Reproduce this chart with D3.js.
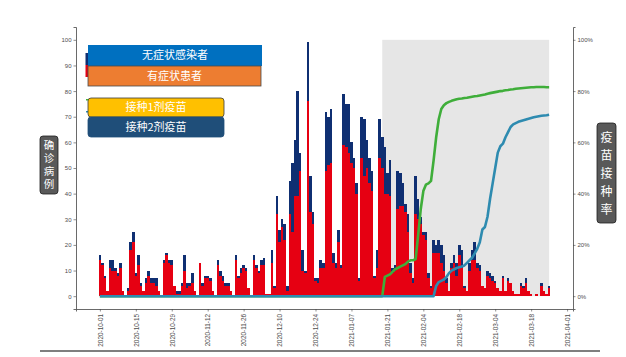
<!DOCTYPE html>
<html><head><meta charset="utf-8">
<script src="https://cdn.jsdelivr.net/npm/d3@7"></script>
<style>body{margin:0;background:#fff} svg{display:block}</style>
</head><body>
<svg id="c" width="626" height="357"></svg>
<script>
// ---------- data ----------
const startDate = "2020-10-01";
// symptomatic (red) daily cases
const symptomatic = [
14,12,7,2,11,10,10,8,11,2,
0,2,18,21,8,12,4,2,5,8,
5,5,4,2,0,13,16,13,12,4,
1,1,4,10,3,4,5,2,0,13,
4,7,7,6,2,0,12,8,6,4,
4,2,0,14,7,9,11,10,3,0,
14,11,9,12,12,1,1,13,3,32,
21,27,22,2,32,25,39,39,49,10,
9,76,33,28,6,5,11,11,49,51,
52,13,11,21,11,59,58,56,52,50,
40,6,54,47,50,44,41,7,11,54,
50,40,40,39,9,10,34,35,35,33,
25,9,5,32,30,28,24,22,7,3,
17,17,17,13,10,5,2,11,13,8,
16,11,3,2,10,14,14,11,10,4,
3,8,7,6,5,3,2,7,2,6,
5,2,1,1,4,3,5,2,1,0,
1,0,4,2,1,3];
// asymptomatic (navy) daily infections
const asymptomatic = [
2,1,1,0,3,4,1,1,2,0,
0,1,3,4,1,4,1,0,2,2,
2,2,3,0,0,1,1,1,2,0,
1,1,1,6,2,1,4,0,0,0,
1,1,1,1,0,0,2,2,2,1,
1,0,0,2,1,2,1,1,0,0,
2,1,1,2,3,0,0,5,1,7,
5,3,6,2,13,27,22,41,7,8,
1,23,14,5,1,2,3,2,23,19,
21,4,2,5,1,20,17,19,8,4,
4,1,16,22,11,10,8,1,7,15,
12,18,8,14,2,2,15,13,9,3,
7,4,2,15,8,3,1,3,2,1,
5,3,5,7,6,2,0,2,3,5,
4,7,1,0,3,4,7,2,2,0,
0,2,2,2,1,0,0,1,0,1,
0,0,0,0,1,1,2,0,0,0,
0,0,1,0,0,1];
// vaccination rate (%), 1 dose, daily from dose1Start
const dose1Start = "2021-01-19";
const dose1 = [
0,7.5,8,8.5,9.5,10.5,11,11.5,12,12.5,
13.5,14,14,14.5,24,34,41,43.5,44,45,
53,62,69,73,74.5,75.3,75.8,76.2,76.5,76.8,
77,77.1,77.3,77.4,77.6,77.8,78,78.1,78.3,78.5,
78.7,79,79.2,79.4,79.6,79.8,80,80.1,80.3,80.4,
80.6,80.7,80.9,81,81.1,81.2,81.3,81.4,81.5,81.5,
81.6,81.6,81.6,81.6,81.5,81.5];
// vaccination rate (%), 2 doses, daily from dose2Start
const dose2Start = "2021-02-08";
const dose2 = [
0,4,5.5,6,6.5,7.5,9,10,10.5,11,
11.3,11.6,12,13,14,15,16.7,18.5,21,26,
27,31,38,44,50,56,58.5,59.5,62,64,
66,67,67.5,68,68.3,68.6,68.9,69.2,69.5,69.8,
70,70.2,70.4,70.5,70.6,70.8];
const xTickLabels = ["2020-10-01","2020-10-15","2020-10-29","2020-11-12","2020-11-26","2020-12-10","2020-12-24","2021-01-07","2021-01-21","2021-02-04","2021-02-18","2021-03-04","2021-03-18","2021-04-01"];
const yTicks = [0,10,20,30,40,50,60,70,80,90,100];
const pctTicks = [0,0.2,0.4,0.6,0.8,1.0];
const shadeRange = ["2021-01-19","2021-03-25"];
const legendCases = ["无症状感染者","有症状患者"];
const legendVacc = ["接种1剂疫苗","接种2剂疫苗"];
const leftTitle = "确诊病例";
const rightTitle = "疫苗接种率";

// ---------- chart ----------
const DAY = 864e5;
const parse = d3.utcParse("%Y-%m-%d");
const t0 = parse(startDate);
const dates = symptomatic.map((_, i) => new Date(+t0 + i * DAY));
const table = dates.map((d, i) => ({date: d, symptomatic: symptomatic[i], asymptomatic: asymptomatic[i]}));
const lastDate = dates[dates.length - 1];

const svg = d3.select("#c");
const x = d3.scaleUtc()
  .domain([new Date(+t0 - 9.3 * DAY), new Date(+lastDate + 9.3 * DAY)])
  .range([76, 573]);
const y = d3.scaleLinear().domain([-5, 105]).range([309, 27]);
const yp = d3.scaleLinear().domain([-0.05, 1.05]).range([309, 27]);

const numFont = "'Liberation Sans', Arial, sans-serif";
const cjkFont = "'Noto Sans CJK SC', sans-serif";

// shaded vaccination period
svg.append("rect")
  .attr("x", x(parse(shadeRange[0])))
  .attr("width", x(parse(shadeRange[1])) - x(parse(shadeRange[0])))
  .attr("y", yp(1)).attr("height", yp(0) - yp(1))
  .attr("fill", "#e6e6e6");

// stacked bars
const stack = d3.stack().keys(["symptomatic", "asymptomatic"])(table);
const colors = {symptomatic: "#e60012", asymptomatic: "#0f2f72"};
svg.append("g").attr("shape-rendering", "crispEdges")
  .selectAll("g").data(stack).join("g")
  .attr("fill", s => colors[s.key])
  .selectAll("rect").data(s => s.filter(p => p[1] > p[0])).join("rect")
  .attr("x", p => x(new Date(+p.data.date - DAY / 2)))
  .attr("width", p => x(new Date(+p.data.date + DAY / 2)) - x(new Date(+p.data.date - DAY / 2)))
  .attr("y", p => y(p[1]))
  .attr("height", p => y(p[0]) - y(p[1]));

// vaccination lines
function series(startStr, vals) {
  const s = parse(startStr);
  const pts = [{date: t0, v: 0}];
  vals.forEach((v, i) => pts.push({date: new Date(+s + i * DAY), v: v / 100}));
  return pts;
}
const line = d3.line().x(p => x(p.date)).y(p => yp(p.v));
svg.append("path").datum(series(dose1Start, dose1))
  .attr("d", line).attr("fill", "none").attr("stroke", "#3fae3a")
  .attr("stroke-width", 2.6).attr("stroke-linejoin", "round");
svg.append("path").datum(series(dose2Start, dose2))
  .attr("d", line).attr("fill", "none").attr("stroke", "#2e8bb0")
  .attr("stroke-width", 2.6).attr("stroke-linejoin", "round");

// axes
const axisColor = "#444";
const gl = svg.append("g").attr("transform", "translate(76,0)")
  .call(d3.axisLeft(y).tickValues(yTicks).tickSize(2.5).tickPadding(2));
const gr = svg.append("g").attr("transform", "translate(573,0)")
  .call(d3.axisRight(yp).tickValues(pctTicks).tickSize(2.5).tickPadding(2).tickFormat(d3.format(".0%")));
const tickDates = xTickLabels.map(parse);
const gx = svg.append("g").attr("transform", "translate(0,309)")
  .call(d3.axisBottom(x).tickValues(tickDates).tickSize(2.5).tickFormat(d3.utcFormat("%Y-%m-%d")));
[gl, gr, gx].forEach(g => {
  g.select(".domain").attr("stroke", axisColor).attr("stroke-width", 0.8);
  g.selectAll(".tick line").attr("stroke", axisColor).attr("stroke-width", 0.6);
  g.selectAll("text").attr("fill", "#4d4d4d").style("font-family", numFont).style("font-size", "6px");
});
gx.selectAll("text")
  .attr("transform", "rotate(-90)")
  .attr("text-anchor", "end")
  .attr("x", -5).attr("y", 0).attr("dy", "0.35em")
  .style("font-size", "6.4px");

// legend key fragments behind legend boxes
svg.append("rect").attr("x", 85.5).attr("y", 53).attr("width", 3).attr("height", 12).attr("fill", colors.asymptomatic);
svg.append("rect").attr("x", 85.5).attr("y", 65).attr("width", 3).attr("height", 12).attr("fill", colors.symptomatic);
svg.append("rect").attr("x", 86).attr("y", 99).attr("width", 2).attr("height", 1.5).attr("fill", "#3fae3a");
svg.append("rect").attr("x", 86).attr("y", 111).attr("width", 2).attr("height", 1.5).attr("fill", "#2e8bb0");

// legend boxes
const boxes = [
  {t: legendCases[0], x: 88, y: 45, w: 174, h: 21, fill: "#0070c0", stroke: "none", rx: 0, fs: 11},
  {t: legendCases[1], x: 88, y: 66, w: 173, h: 20, fill: "#ed7d31", stroke: "#4a4a4a", rx: 0, fs: 11},
  {t: legendVacc[0], x: 88, y: 98, w: 136, h: 19, fill: "#ffc000", stroke: "#3a3a3a", rx: 3, fs: 11},
  {t: legendVacc[1], x: 88, y: 117, w: 136, h: 20, fill: "#1f4e79", stroke: "#1f4e79", rx: 3, fs: 11}
];
boxes.forEach(b => {
  svg.append("rect").attr("x", b.x).attr("y", b.y).attr("width", b.w).attr("height", b.h)
    .attr("rx", b.rx).attr("fill", b.fill).attr("stroke", b.stroke).attr("stroke-width", 0.8);
  svg.append("text").attr("x", b.x + b.w / 2).attr("y", b.y + b.h / 2).attr("dy", "0.36em")
    .attr("text-anchor", "middle").attr("fill", "#fff")
    .style("font-family", cjkFont).style("font-size", b.fs + "px").text(b.t);
});

// vertical titles (single vertical text each)
function vTitle(txt, bx, by, bw, bh, fs, spacing) {
  svg.append("rect").attr("x", bx).attr("y", by).attr("width", bw).attr("height", bh)
    .attr("rx", 3).attr("fill", "#595959").attr("stroke", "#1e1e1e").attr("stroke-width", 0.8);
  svg.append("text")
    .attr("x", bx + bw / 2).attr("y", by + bh / 2 + spacing / 2)
    .attr("writing-mode", "tb")
    .style("writing-mode", "vertical-rl")
    .style("text-orientation", "upright")
    .attr("text-anchor", "middle")
    .attr("fill", "#fff")
    .style("letter-spacing", spacing + "px")
    .style("font-family", cjkFont).style("font-size", fs + "px")
    .text(txt);
}
vTitle(leftTitle, 40, 136, 18, 58, 10.5, 2.5);
vTitle(rightTitle, 597, 123, 19, 100, 12, 6);

// bottom rule
svg.append("line").attr("x1", 40).attr("x2", 600).attr("y1", 351).attr("y2", 351)
  .attr("stroke", "#7f7f7f").attr("stroke-width", 2);
</script>
</body></html>
